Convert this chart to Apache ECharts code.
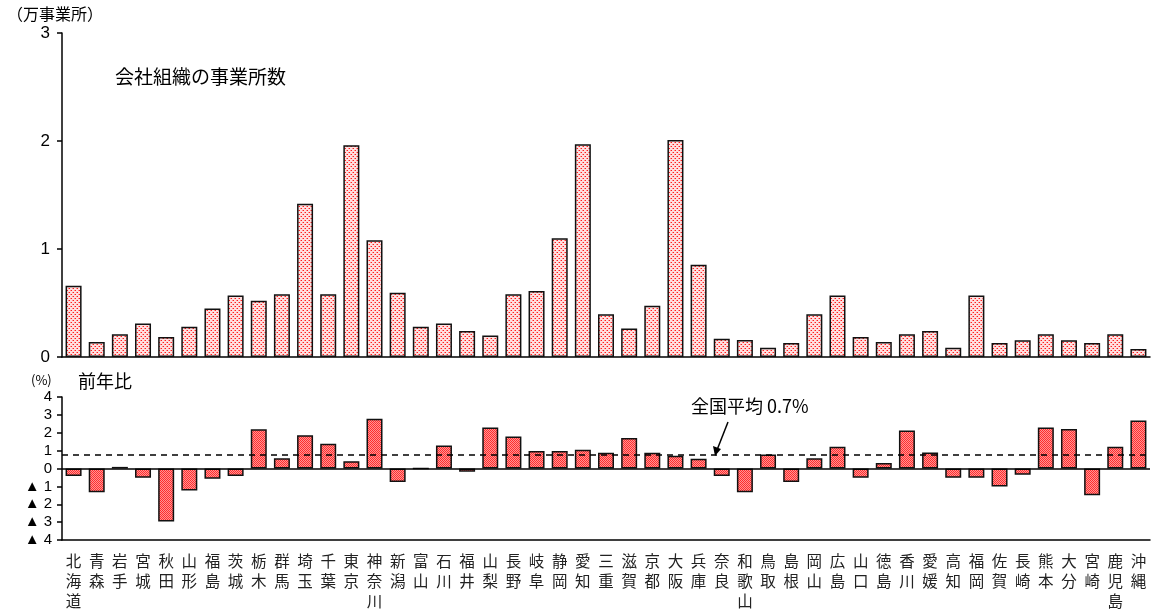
<!DOCTYPE html>
<html>
<head>
<meta charset="utf-8">
<script src="https://cdn.jsdelivr.net/npm/echarts@6/dist/echarts.min.js"></script>
<style>
html,body{margin:0;padding:0;background:#fff;}
#chart{width:1154px;height:611px;}
</style>
</head>
<body>
<div id="chart"></div>
<script>
var prefectures = ['北海道','青森','岩手','宮城','秋田','山形','福島','茨城','栃木','群馬','埼玉','千葉','東京','神奈川','新潟','富山','石川','福井','山梨','長野','岐阜','静岡','愛知','三重','滋賀','京都','大阪','兵庫','奈良','和歌山','鳥取','島根','岡山','広島','山口','徳島','香川','愛媛','高知','福岡','佐賀','長崎','熊本','大分','宮崎','鹿児島','沖縄'];

// 会社組織の事業所数（万事業所）
var establishments = [0.66,0.14,0.21,0.31,0.185,0.28,0.45,0.57,0.52,0.58,1.42,0.58,1.96,1.08,0.595,0.28,0.31,0.24,0.20,0.58,0.61,1.10,1.97,0.395,0.265,0.475,2.01,0.855,0.17,0.157,0.086,0.13,0.395,0.57,0.185,0.14,0.21,0.24,0.086,0.57,0.13,0.155,0.21,0.155,0.13,0.21,0.074];

// 前年比（%）
var yoyChange = [-0.42,-1.33,0.09,-0.52,-2.97,-1.23,-0.57,-0.42,2.19,0.57,1.86,1.38,0.41,2.78,-0.76,0,1.29,-0.18,2.29,1.79,0.98,0.98,1.05,0.88,1.71,0.88,0.72,0.55,-0.42,-1.33,0.79,-0.76,0.57,1.22,-0.52,0.31,2.12,0.90,-0.52,-0.52,-1.0,-0.35,2.29,2.21,-1.49,1.22,2.69];

var nationalAverage = 0.76;
var nationalAverageLabel = '全国平均 0.7%';

function makePattern(size, bg, dots) {
  var c = document.createElement('canvas');
  c.width = size; c.height = size;
  var ctx = c.getContext('2d');
  ctx.fillStyle = bg; ctx.fillRect(0,0,size,size);
  dots.forEach(function(d){ ctx.fillStyle = d[2]; ctx.fillRect(d[0], d[1], 1, 1); });
  return c;
}
var topPattern = makePattern(4, '#ffdede', [[1,0,'#ff1e1e'],[0,0,'#ff8a8a'],[3,2,'#ff1e1e'],[2,2,'#ff8a8a']]);
var botPattern = makePattern(2, '#ff9494', [[0,0,'#ff2e2e'],[1,1,'#ff2e2e']]);

var font = '"Noto Sans CJK JP", sans-serif';
var numFont = '"Liberation Sans", Arial, sans-serif';

var chart = echarts.init(document.getElementById('chart'), null, {renderer:'canvas'});
chart.setOption({
  animation: false,
  backgroundColor: '#fff',
  grid: [
    {left: 62, top: 33, width: 1088, height: 324},
    {left: 62, top: 397, width: 1088, height: 145}
  ],
  xAxis: [
    {type:'category', gridIndex:0, data: prefectures,
     axisLine:{show:true, lineStyle:{color:'#000', width:1.5}},
     axisTick:{show:false}, axisLabel:{show:false}},
    {type:'category', gridIndex:1, data: prefectures, position:'bottom',
     axisLine:{show:true, onZero:false, lineStyle:{color:'#000', width:1.5}},
     axisTick:{show:false},
     axisLabel:{show:true, interval:0, margin:11, color:'#222', fontSize:15.5, lineHeight:20,
       fontFamily: font, verticalAlign:'top',
       formatter: function(v){ return v.split('').join('\n'); }}}
  ],
  yAxis: [
    {type:'value', gridIndex:0, min:0, max:3, interval:1,
     axisLine:{show:true, lineStyle:{color:'#000', width:1.5}},
     axisTick:{show:true, length:5, lineStyle:{color:'#000', width:1.5}},
     splitLine:{show:false},
     axisLabel:{color:'#000', fontSize:17, fontFamily:numFont, margin:12}},
    {type:'value', gridIndex:1, min:-4, max:4, interval:1,
     axisLine:{show:true, lineStyle:{color:'#000', width:1.5}},
     axisTick:{show:true, length:5, lineStyle:{color:'#000', width:1.5}},
     splitLine:{show:false},
     axisLabel:{color:'#000', fontSize:15, fontFamily:numFont, margin:10,
       formatter:function(v){ return v < 0 ? '▲ ' + (-v) : String(v); }}}
  ],
  series: [
    {type:'bar', xAxisIndex:0, yAxisIndex:0, data: establishments, barWidth:16,
     itemStyle:{color:{image: topPattern, repeat:'repeat'}, borderColor:'#111', borderWidth:1.5}},
    {type:'bar', xAxisIndex:1, yAxisIndex:1, data: yoyChange, barWidth:16,
     itemStyle:{color:{image: botPattern, repeat:'repeat'}, borderColor:'#111', borderWidth:1.5},
     markLine:{silent:true, symbol:'none', label:{show:false},
       data:[
         {yAxis:0, lineStyle:{color:'#000', type:'solid', width:1.5}},
         {yAxis:nationalAverage, lineStyle:{color:'#000', type:[6,5], width:1.5}}
       ]}}
  ],
  graphic: [
    {type:'text', left:7, top:6, style:{text:'（万事業所）', font:'16px ' + font, fill:'#000'}},
    {type:'text', left:115, top:67, style:{text:'会社組織の事業所数', font:'19px ' + font, fill:'#000'}},
    {type:'text', left:31, top:374, style:{text:'(%)', font:'13px ' + font, fill:'#000'}},
    {type:'text', left:78, top:372, style:{text:'前年比', font:'18px ' + font, fill:'#000'}},
    {type:'text', left:691, top:397, style:{text: nationalAverageLabel, font:'18px ' + font, fill:'#000'}},
    {type:'line', shape:{x1:728, y1:422, x2:717, y2:450}, style:{stroke:'#000', lineWidth:1.5}},
    {type:'polygon', shape:{points:[[715,456],[713,446],[721,449]]}, style:{fill:'#000'}}
  ]
});
</script>
</body>
</html>
